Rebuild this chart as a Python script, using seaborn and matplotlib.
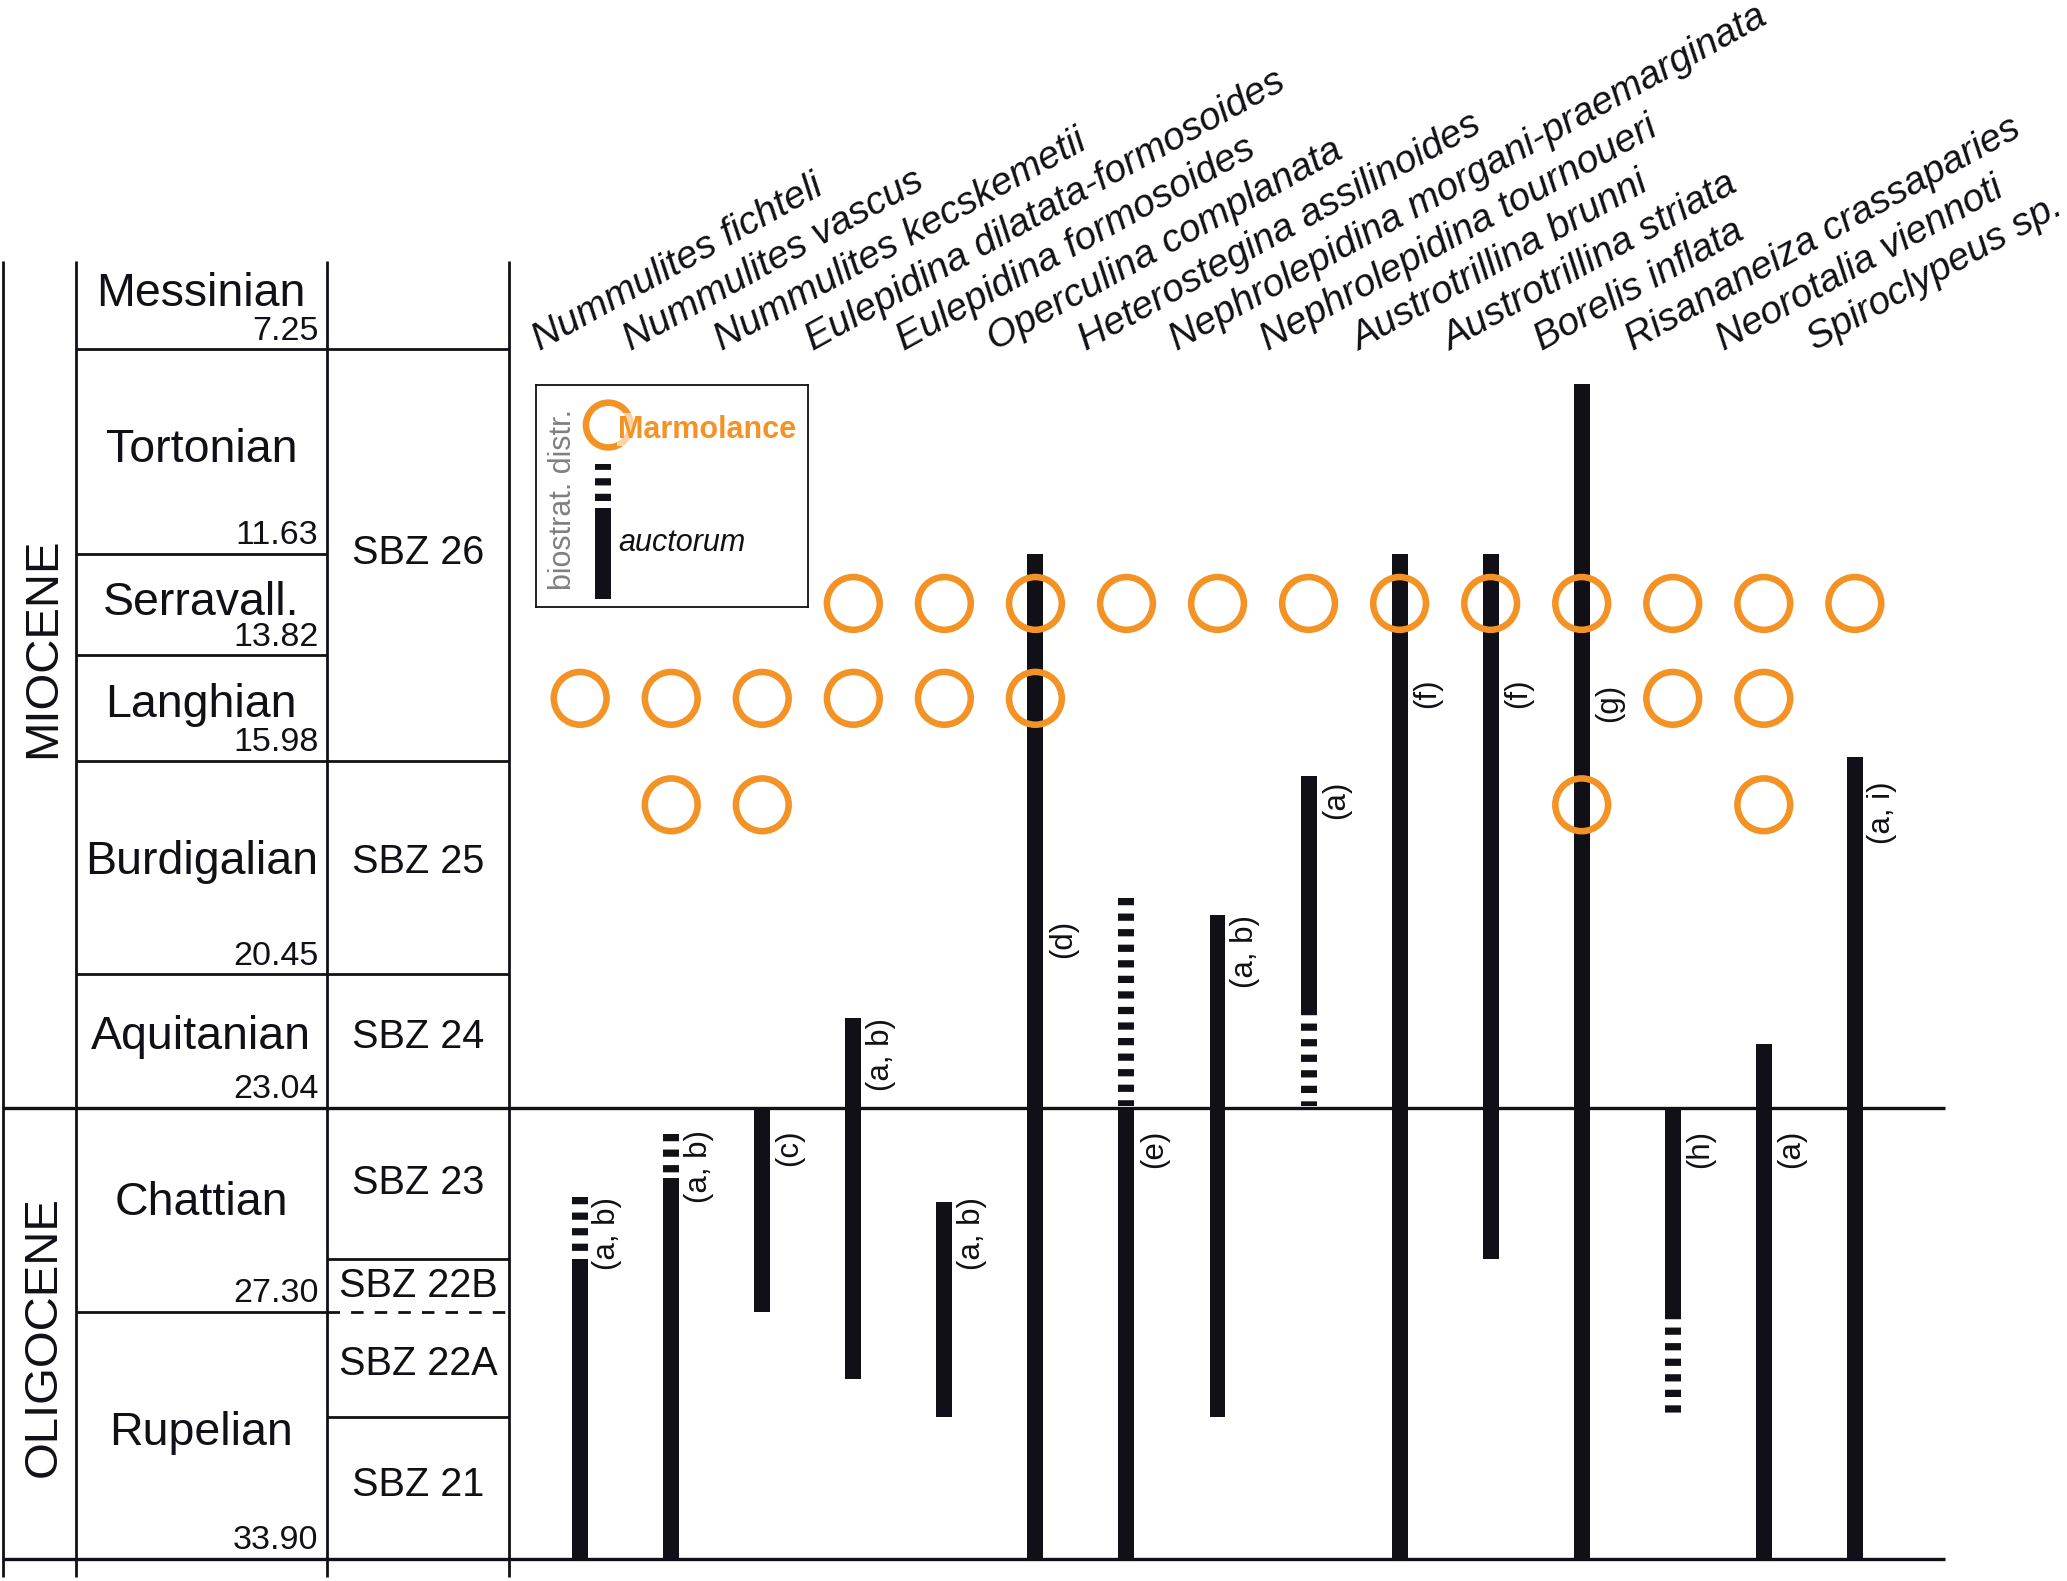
import numpy as np
import pandas as pd
import matplotlib
matplotlib.use("Agg")
import matplotlib.pyplot as plt
import matplotlib.transforms as mtransforms
import seaborn as sns

# ---------------- data ----------------
species = ['Nummulites fichteli', 'Nummulites vascus', 'Nummulites kecskemetii',
           'Eulepidina dilatata-formosoides', 'Eulepidina formosoides',
           'Operculina complanata', 'Heterostegina assilinoides',
           'Nephrolepidina morgani-praemarginata', 'Nephrolepidina tournoueri',
           'Austrotrillina brunni', 'Austrotrillina striata', 'Borelis inflata',
           'Risananeiza crassaparies', 'Neorotalia viennoti', 'Spiroclypeus sp.']

# biostratigraphic distribution auctorum (Ma), solid part of the bars
range_top = [26.2, 24.5, 23.04, 21.3, 25.0, 11.63, 23.04, 19.2, 16.3, 11.63, 11.63, 8.0, 23.04, 21.8, 15.9]
range_base = [33.9, 33.9, 27.3, 29.1, 30.1, 33.9, 33.9, 30.1, 21.1, 33.9, 26.2, 33.9, 27.3, 33.9, 33.9]

# uncertain (dashed) parts
dash_species = [0, 1, 6, 8, 12]
dash_top = [24.9, 23.6, 18.85, 21.1, 27.3]
dash_base = [26.2, 24.5, 23.0, 23.0, 30.1]

# references next to each bar
notes = ['(a, b)', '(a, b)', '(c)', '(a, b)', '(a, b)', '(d)', '(e)', '(a, b)',
         '(a)', '(f)', '(f)', '(g)', '(h)', '(a)', '(a, i)']
note_age = [24.9, 23.5, 23.5, 21.3, 24.9, 19.3, 23.5, 19.2, 16.4, 14.3, 14.3, 14.4, 23.5, 23.5, 16.4]

# Marmolance occurrences
occ_species = [3, 4, 5, 6, 7, 8, 9, 10, 11, 12, 13, 14,
               0, 1, 2, 3, 4, 5, 12, 13,
               1, 2, 11, 13]
occ_age = [12.7, 12.7, 12.7, 12.7, 12.7, 12.7, 12.7, 12.7, 12.7, 12.7, 12.7, 12.7,
           14.7, 14.7, 14.7, 14.7, 14.7, 14.7, 14.7, 14.7,
           16.9, 16.9, 16.9, 16.9]

# chronostratigraphy
miocene_top = 5.33
epochs = ['MIOCENE', 'OLIGOCENE']
epoch_base = [23.04, 33.90]
stages = ['Messinian', 'Tortonian', 'Serravall.', 'Langhian', 'Burdigalian',
          'Aquitanian', 'Chattian', 'Rupelian']
stage_base = [7.25, 11.63, 13.82, 15.98, 20.45, 23.04, 27.30, 33.90]
stage_base_lbl = ['7.25', '11.63', '13.82', '15.98', '20.45', '23.04', '27.30', '33.90']
sbz = ['SBZ 26', 'SBZ 25', 'SBZ 24', 'SBZ 23', 'SBZ 22B', 'SBZ 22A', 'SBZ 21']
sbz_top = 7.25
sbz_base = [15.98, 20.45, 23.04, 26.2, 27.30, 30.1, 33.90]
sbz_dashed = ['SBZ 22B']

# ---------------- layout (reference page px) ----------------
W, H = 1567.6, 1199.0
BOUND_PX = [198, 265, 420, 497, 577, 739, 840, 995, 1182]   # miocene top + stage bases
SLOT_X0, SLOT_W = 440.0, 69.05
COL_PX = [2.5, 57.6, 247.7, 386.3]
RIGHT_PX = 1475
EPOCH_LABEL_AGE = [13.65, 27.95]
STAGE_NUDGE = [8, 1, 1, 2, 4, 3, 5, 2]      # points, upward
SBZ_NUDGE = [0, 4, 3, 0, 0, 0, 2]

ORANGE = '#f39325'
INK = '#111016'
GREY = '#808080'
BAR_W = 12.1 / SLOT_W
BAR_LW = 11.5
DASH = (0, (5.2, 6.0))

knot_age = np.array([miocene_top] + stage_base)
knot_px = np.array(BOUND_PX, float)
s_lo = (knot_px[1] - knot_px[0]) / (knot_age[1] - knot_age[0])
s_hi = (knot_px[-1] - knot_px[-2]) / (knot_age[-1] - knot_age[-2])
ka = np.r_[knot_age[0] - 50, knot_age, knot_age[-1] + 50]
kp = np.r_[knot_px[0] - 50 * s_lo, knot_px, knot_px[-1] + 50 * s_hi]


def age2px(a):
    return np.interp(a, ka, kp)


def px2age(p):
    return np.interp(p, kp, ka)


def px2x(p):
    return (np.asarray(p, float) - SLOT_X0) / SLOT_W


def page_rect(x0, y0, x1, y1):
    return [x0 / W, 1 - y1 / H, (x1 - x0) / W, (y1 - y0) / H]


sns.set_theme(style='white')
plt.rcParams['font.family'] = ['Liberation Sans', 'DejaVu Sans']
plt.rcParams['lines.scale_dashes'] = False

fig = plt.figure(figsize=(20.67, 15.81), dpi=100)
ax = fig.add_axes([0, 0, 1, 1])

# ranges
x = np.arange(len(species))
ax.bar(x, np.array(range_base) - np.array(range_top), bottom=range_top,
       width=BAR_W, color=INK, linewidth=0, zorder=2)
dl = ax.vlines(dash_species, dash_top, dash_base, colors=INK, linewidth=BAR_LW,
               linestyles=[DASH], zorder=2)
dl.set_capstyle('butt')

# Marmolance occurrences
occ = pd.DataFrame({'sp': occ_species, 'age': occ_age})
sns.scatterplot(data=occ, x='sp', y='age', ax=ax, s=1444, marker='o',
                facecolor='none', edgecolor=ORANGE, linewidth=4.7, zorder=3, legend=False)

ax.set_yscale('function', functions=(age2px, px2age))
ax.set_xlim(px2x(0), px2x(W))
ax.set_ylim(px2age(H), px2age(0))
ax.axis('off')

# chronostratigraphic table
e0, e1, e2, e3 = px2x(COL_PX)
right = px2x(RIGHT_PX)
ax.vlines([e0, e1, e2, e3], miocene_top, px2age(1196), colors=INK, linewidth=2.0)
ax.hlines(stage_base, e1, e2, colors=INK, linewidth=2.0)
for name, b in zip(sbz, sbz_base):
    ls = (0, (9, 8)) if name in sbz_dashed else 'solid'
    ax.hlines(b, e2, e3, colors=INK, linewidth=2.0, linestyles=[ls])
ax.hlines(epoch_base, e0, right, colors=INK, linewidth=2.4)
ax.hlines(sbz_top, e2, e3, colors=INK, linewidth=2.0)

tops = [miocene_top] + stage_base[:-1]
for name, t, b, lbl, nd in zip(stages, tops, stage_base, stage_base_lbl, STAGE_NUDGE):
    ax.annotate(name, xy=((e1 + e2) / 2, (t + b) / 2), xytext=(0, nd),
                textcoords='offset points', ha='center', va='center', fontsize=33.5, color=INK)
    ax.annotate(lbl, xy=(e2, b), xytext=(-6, 7), textcoords='offset points',
                ha='right', va='baseline', fontsize=24.5, color=INK)

ztops = [sbz_top] + sbz_base[:-1]
for name, t, b, nd in zip(sbz, ztops, sbz_base, SBZ_NUDGE):
    ax.annotate(name, xy=((e2 + e3) / 2, (t + b) / 2), xytext=(0, nd),
                textcoords='offset points', ha='center', va='center', fontsize=28.5, color=INK)

for name, a in zip(epochs, EPOCH_LABEL_AGE):
    ax.text((e0 + e1) / 2 + 0.04, a, name, rotation=90, ha='center', va='center',
            fontsize=34, color=INK)

# species names
trans = mtransforms.blended_transform_factory(ax.transData, ax.transAxes)
for i, name in enumerate(species):
    ax.text(i - 0.44, 1 - 266 / H, name, transform=trans, rotation=29,
            rotation_mode='anchor', ha='left', va='baseline', fontsize=28,
            style='italic', color=INK)

for i, (n, a) in enumerate(zip(notes, note_age)):
    ax.text(i + 0.30, a, n, rotation=90, ha='center', va='top', fontsize=22.5, color=INK)

# legend box
lax = fig.add_axes(page_rect(406.5, 292, 612.8, 460.6))
lax.set_xlim(0, 1)
lax.set_ylim(0, 1)
lax.set_xticks([])
lax.set_yticks([])
lax.set_facecolor('white')
for sp in lax.spines.values():
    sp.set_visible(True)
    sp.set_color(INK)
    sp.set_linewidth(1.3)
lax.scatter([0.266], [0.82], s=1040, facecolor='none', edgecolor=ORANGE, linewidth=4.7, zorder=2)
lax.text(0.303, 0.798, 'Marmolance', ha='left', va='center', fontsize=22, fontweight='bold',
         color=ORANGE, zorder=3,
         bbox=dict(boxstyle='square,pad=0.05', facecolor='white', edgecolor='none', alpha=0.6))
ld = lax.vlines([0.245], 0.478, 0.644, colors=INK, linewidth=BAR_LW, linestyles=[DASH])
ld.set_capstyle('butt')
ls_ = lax.vlines([0.245], 0.039, 0.448, colors=INK, linewidth=BAR_LW)
ls_.set_capstyle('butt')
lax.text(0.303, 0.288, 'auctorum', ha='left', va='center', fontsize=22, style='italic', color=INK)
lax.text(0.098, 0.484, 'biostrat. distr.', rotation=90, ha='center', va='center',
         fontsize=22, color=GREY)

fig.savefig('out.png', dpi=100)
